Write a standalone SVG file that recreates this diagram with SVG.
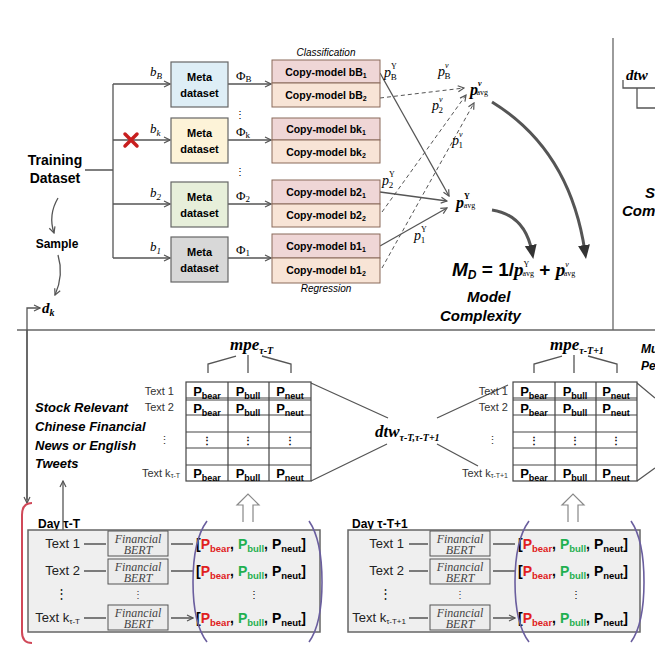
<svg xmlns="http://www.w3.org/2000/svg" width="655" height="655" viewBox="0 0 655 655">
<defs>
<style>
.s{font-family:"Liberation Sans",Arial,sans-serif}
.b{font-family:"Liberation Sans",Arial,sans-serif;font-weight:bold}
.bi{font-family:"Liberation Sans",Arial,sans-serif;font-weight:bold;font-style:italic}
.m{font-family:"Liberation Serif","Times New Roman",serif;font-style:italic}
.mr{font-family:"Liberation Serif","Times New Roman",serif}
.ln{stroke:#555;stroke-width:1.3;fill:none}
.dl{stroke:#555;stroke-width:1;fill:none;stroke-dasharray:4 3}
.meta{stroke:#666;stroke-width:1.2}
.cp1{fill:#efd6d6;stroke:#8a6a5a;stroke-width:1}
.cp2{fill:#f8e4d6;stroke:#8a6a5a;stroke-width:1}
.cell{fill:#fff;stroke:#444;stroke-width:1.2}
.fb{fill:#ececec;stroke:#555;stroke-width:1}
.day{fill:#efefef;stroke:#666;stroke-width:1.5}
.r{fill:#e02020}.g{fill:#1fb050}
</style>
<marker id="a" markerWidth="8" markerHeight="8" refX="7" refY="4" orient="auto" markerUnits="userSpaceOnUse"><path d="M1,1 L7,4 L1,7" fill="none" stroke="#555" stroke-width="1.2"/></marker>
<marker id="big" markerWidth="14" markerHeight="14" refX="7" refY="7" orient="auto" markerUnits="userSpaceOnUse"><path d="M0,1 L14,7 L0,13 Z" fill="#333"/></marker>
</defs>
<rect width="655" height="655" fill="#fff"/>

<g id="frame">
<line x1="17" y1="330" x2="655" y2="330" stroke="#666" stroke-width="1.3"/>
<line x1="613" y1="38" x2="613" y2="330" stroke="#666" stroke-width="1.3"/>
</g>

<g id="connectors">
<path class="ln" d="M85,170 H113 M113,84 V258"/>
<path class="ln" marker-end="url(#a)" d="M113,84 H170"/>
<path class="ln" marker-end="url(#a)" d="M113,140 H170"/>
<path class="ln" marker-end="url(#a)" d="M113,204 H170"/>
<path class="ln" marker-end="url(#a)" d="M113,258 H170"/>
<path class="ln" marker-end="url(#a)" d="M228,84 H271"/>
<path class="ln" marker-end="url(#a)" d="M228,140 H271"/>
<path class="ln" marker-end="url(#a)" d="M228,204 H271"/>
<path class="ln" marker-end="url(#a)" d="M228,258 H271"/>
<path class="ln" marker-end="url(#a)" d="M380,73 L449,196"/>
<path class="ln" marker-end="url(#a)" d="M380,192 L447,201"/>
<path class="ln" marker-end="url(#a)" d="M380,246 L447,208"/>
<path class="dl" marker-end="url(#a)" d="M380,98 L464,88"/>
<path class="dl" marker-end="url(#a)" d="M382,212 L466,95"/>
<path class="dl" marker-end="url(#a)" d="M382,268 L474,103"/>
<path d="M492,102 Q570,150 585,252" fill="none" stroke="#555" stroke-width="3" marker-end="url(#big)"/>
<path d="M492,210 Q525,215 532,252" fill="none" stroke="#555" stroke-width="3" marker-end="url(#big)"/>
<path class="ln" marker-end="url(#a)" d="M58,198 Q48,215 54,233"/>
<path class="ln" marker-end="url(#a)" d="M58,255 Q64,275 55,295"/>
<path class="ln" marker-end="url(#a)" d="M27,500 V308 H40"/>
<path class="ln" marker-end="url(#a)" d="M27,330 V503"/>
<path class="ln" marker-end="url(#a)" d="M63,542 V481"/>
<path class="ln" d="M208,373 V364 L236,356 M248,355 V373 M262,356 L291,364 V373"/>
<path class="ln" d="M534,373 V364 L562,356 M574,355 V373 M588,356 L617,364 V373"/>
<path class="ln" d="M311,383 L388,418 M311,481 L387,444 M437,418 L508,385 M437,444 L478,466 M637,383 L655,398 M637,481 L655,468"/>
<path d="M243,522 V505 H237 L248,494 L259,505 H253 V522" fill="#fff" stroke="#888" stroke-width="1.2"/>
<path d="M568,522 V505 H562 L573,494 L584,505 H578 V522" fill="#fff" stroke="#888" stroke-width="1.2"/>
<path class="ln" d="M623,80 V88 H655 M637,88 V108 H655"/>
</g>

<g id="training"><text class="b" x="55" y="165" font-size="14" text-anchor="middle">Training</text><text class="b" x="55" y="183" font-size="14" text-anchor="middle">Dataset</text></g>
<g id="sample"><text class="b" x="57" y="248" font-size="12" text-anchor="middle">Sample</text></g>
<g id="dk"><text class="m" x="42" y="313" font-size="15" font-weight="bold">d<tspan font-size="10" dy="3">k</tspan></text></g>

<g id="labels-b" class="m" font-size="13">
<text x="150" y="76">b<tspan font-size="9" dy="3">B</tspan></text>
<text x="150" y="133">b<tspan font-size="9" dy="3">k</tspan></text>
<text x="150" y="197">b<tspan font-size="9" dy="3">2</tspan></text>
<text x="150" y="251">b<tspan font-size="9" dy="3">1</tspan></text>
</g>
<g id="redx"><path d="M125,134 L137,146 M137,134 L125,146" stroke="#c81e1e" stroke-width="3.5" stroke-linecap="round"/></g>
<g id="phis" class="mr" font-size="13">
<text x="236" y="80">Φ<tspan font-size="9" dy="2">B</tspan></text>
<text x="236" y="136">Φ<tspan font-size="9" dy="2">k</tspan></text>
<text x="236" y="200">Φ<tspan font-size="9" dy="2">2</tspan></text>
<text x="236" y="254">Φ<tspan font-size="9" dy="2">1</tspan></text>
<text x="235" y="118" font-size="10">⋮</text>
<text x="235" y="175" font-size="10">⋮</text>
</g>

<g id="meta-bB"><rect class="meta" x="171" y="62" width="57" height="45" fill="#deeef6"/><text class="b" x="199.5" y="81" font-size="11" text-anchor="middle">Meta</text><text class="b" x="199.5" y="97" font-size="11" text-anchor="middle">dataset</text></g>
<g id="meta-bk"><rect class="meta" x="171" y="118" width="57" height="45" fill="#fdf3d8"/><text class="b" x="199.5" y="137" font-size="11" text-anchor="middle">Meta</text><text class="b" x="199.5" y="153" font-size="11" text-anchor="middle">dataset</text></g>
<g id="meta-b2"><rect class="meta" x="171" y="182" width="57" height="45" fill="#e7efda"/><text class="b" x="199.5" y="201" font-size="11" text-anchor="middle">Meta</text><text class="b" x="199.5" y="217" font-size="11" text-anchor="middle">dataset</text></g>
<g id="meta-b1"><rect class="meta" x="171" y="237" width="57" height="45" fill="#d8d8d8"/><text class="b" x="199.5" y="256" font-size="11" text-anchor="middle">Meta</text><text class="b" x="199.5" y="272" font-size="11" text-anchor="middle">dataset</text></g>

<g id="copy-models" class="b" font-size="10.5" text-anchor="middle">
<text class="s" x="326" y="56" font-size="10" font-style="italic" font-weight="normal">Classification</text>
<rect class="cp1" x="272" y="60" width="108" height="23"/><rect class="cp2" x="272" y="83" width="108" height="24"/>
<text x="326" y="76">Copy-model bB<tspan font-size="7" dy="2">1</tspan></text><text x="326" y="99">Copy-model bB<tspan font-size="7" dy="2">2</tspan></text>
<rect class="cp1" x="272" y="118" width="108" height="22"/><rect class="cp2" x="272" y="140" width="108" height="23"/>
<text x="326" y="133">Copy-model bk<tspan font-size="7" dy="2">1</tspan></text><text x="326" y="156">Copy-model bk<tspan font-size="7" dy="2">2</tspan></text>
<rect class="cp1" x="272" y="180" width="108" height="24"/><rect class="cp2" x="272" y="204" width="108" height="23"/>
<text x="326" y="196">Copy-model b2<tspan font-size="7" dy="2">1</tspan></text><text x="326" y="219">Copy-model b2<tspan font-size="7" dy="2">2</tspan></text>
<rect class="cp1" x="272" y="234" width="108" height="24"/><rect class="cp2" x="272" y="258" width="108" height="25"/>
<text x="326" y="250">Copy-model b1<tspan font-size="7" dy="2">1</tspan></text><text x="326" y="274">Copy-model b1<tspan font-size="7" dy="2">2</tspan></text>
<text class="s" x="326" y="292" font-size="10" font-style="italic" font-weight="normal">Regression</text>
</g>

<g id="p-labels" class="m" font-size="14">
<text x="384" y="77">p<tspan class="mr" font-size="8" dy="-8" font-style="normal">Y</tspan><tspan class="mr" font-size="9" dx="-6" dy="11" font-style="normal">B</tspan></text>
<text x="438" y="76">p<tspan class="mr" font-size="8" dy="-8">v</tspan><tspan class="mr" font-size="9" dx="-4" dy="11" font-style="normal">B</tspan></text>
<text x="432" y="110">p<tspan class="mr" font-size="8" dy="-8">v</tspan><tspan class="mr" font-size="9" dx="-4" dy="11" font-style="normal">2</tspan></text>
<text x="452" y="145">p<tspan class="mr" font-size="8" dy="-8">v</tspan><tspan class="mr" font-size="9" dx="-4" dy="11" font-style="normal">1</tspan></text>
<text x="382" y="185">p<tspan class="mr" font-size="8" dy="-8" font-style="normal">Y</tspan><tspan class="mr" font-size="9" dx="-6" dy="11" font-style="normal">2</tspan></text>
<text x="414" y="240">p<tspan class="mr" font-size="8" dy="-8" font-style="normal">Y</tspan><tspan class="mr" font-size="9" dx="-6" dy="11" font-style="normal">1</tspan></text>
</g>
<g id="p-avg-v"><text class="m" x="470" y="95" font-size="16" font-weight="bold">p<tspan font-size="8" dy="-9">v</tspan><tspan font-size="8" dx="-5" dy="9" font-style="normal" font-weight="normal">avg</tspan></text></g>
<g id="p-avg-Y"><text class="m" x="456" y="208" font-size="16" font-weight="bold">p<tspan font-size="8" dy="-9" font-style="normal">Y</tspan><tspan font-size="8" dx="-6" dy="9" font-style="normal" font-weight="normal">avg</tspan></text></g>
<g id="formula">
<text x="452" y="276" font-size="19"><tspan class="bi">M</tspan><tspan class="bi" font-size="12" dy="3">D</tspan><tspan class="b" dy="-3"> = 1/</tspan><tspan class="m" font-weight="bold">p</tspan><tspan class="mr" font-size="8" dy="-9">Y</tspan><tspan class="mr" font-size="8" dx="-6" dy="9">avg</tspan><tspan class="b"> + </tspan><tspan class="m" font-weight="bold">p</tspan><tspan class="m" font-size="8" dy="-9">v</tspan><tspan class="mr" font-size="8" dx="-5" dy="9">avg</tspan></text>
<text class="bi" x="467" y="302" font-size="15">Model</text>
<text class="bi" x="440" y="321" font-size="15">Complexity</text>
</g>
<g id="right-partial">
<text class="m" x="626" y="80" font-size="15" font-weight="bold">dtw</text>
<text class="bi" x="645" y="198" font-size="15">S</text>
<text class="bi" x="622" y="216" font-size="15">Com</text>
<text class="bi" x="641" y="353" font-size="12">Mu</text>
<text class="bi" x="641" y="370" font-size="12">Per</text>
</g>

<g id="stock-text" class="bi" font-size="13">
<text x="35" y="412">Stock Relevant</text><text x="35" y="431">Chinese Financial</text><text x="35" y="450">News or English</text><text x="35" y="468">Tweets</text>
</g>
<g id="mpe1"><text class="m" x="230" y="350" font-size="17" font-weight="bold">mpe<tspan font-size="10" dy="4">τ-T</tspan></text></g>
<g id="mpe2"><text class="m" x="550" y="350" font-size="17" font-weight="bold">mpe<tspan font-size="10" dy="4">τ-T+1</tspan></text></g>
<g id="dtw"><text class="m" x="375" y="437" font-size="17" font-weight="bold">dtw<tspan font-size="10" dy="4">τ-T,τ-T+1</tspan></text></g>

<g id="table1">
<rect class="cell" x="186" y="382" width="125" height="99"/>
<path stroke="#444" stroke-width="1.2" d="M228,382 V481 M269,382 V481 M186,398 H311 M186,400 H311 M186,415 H311 M186,432 H311 M186,448 H311 M186,465 H311"/>
<g class="b" font-size="13" text-anchor="middle">
<text x="207" y="396">P<tspan font-size="9" dy="3">bear</tspan></text><text x="248" y="396">P<tspan font-size="9" dy="3">bull</tspan></text><text x="290" y="396">P<tspan font-size="9" dy="3">neut</tspan></text>
<text x="207" y="413">P<tspan font-size="9" dy="3">bear</tspan></text><text x="248" y="413">P<tspan font-size="9" dy="3">bull</tspan></text><text x="290" y="413">P<tspan font-size="9" dy="3">neut</tspan></text>
<text x="207" y="444" font-size="10">⋮</text><text x="248" y="444" font-size="10">⋮</text><text x="290" y="444" font-size="10">⋮</text>
<text x="207" y="478">P<tspan font-size="9" dy="3">bear</tspan></text><text x="248" y="478">P<tspan font-size="9" dy="3">bull</tspan></text><text x="290" y="478">P<tspan font-size="9" dy="3">neut</tspan></text>
</g>
<g class="s" font-size="11" text-anchor="end" fill="#333">
<text x="174" y="395">Text 1</text><text x="174" y="411">Text 2</text><text x="170" y="444">⋮</text><text x="180" y="477">Text k<tspan font-size="7" dy="1">τ-T</tspan></text>
</g>
</g>

<g id="table2">
<rect class="cell" x="513" y="382" width="124" height="99"/>
<path stroke="#444" stroke-width="1.2" d="M555,382 V481 M596,382 V481 M513,398 H637 M513,400 H637 M513,415 H637 M513,432 H637 M513,448 H637 M513,465 H637"/>
<g class="b" font-size="13" text-anchor="middle">
<text x="534" y="396">P<tspan font-size="9" dy="3">bear</tspan></text><text x="575" y="396">P<tspan font-size="9" dy="3">bull</tspan></text><text x="616" y="396">P<tspan font-size="9" dy="3">neut</tspan></text>
<text x="534" y="413">P<tspan font-size="9" dy="3">bear</tspan></text><text x="575" y="413">P<tspan font-size="9" dy="3">bull</tspan></text><text x="616" y="413">P<tspan font-size="9" dy="3">neut</tspan></text>
<text x="534" y="444" font-size="10">⋮</text><text x="575" y="444" font-size="10">⋮</text><text x="616" y="444" font-size="10">⋮</text>
<text x="534" y="478">P<tspan font-size="9" dy="3">bear</tspan></text><text x="575" y="478">P<tspan font-size="9" dy="3">bull</tspan></text><text x="616" y="478">P<tspan font-size="9" dy="3">neut</tspan></text>
</g>
<g class="s" font-size="11" text-anchor="end" fill="#333">
<text x="508" y="395">Text 1</text><text x="508" y="411">Text 2</text><text x="498" y="444">⋮</text><text x="508" y="477">Text k<tspan font-size="7" dy="1">τ-T+1</tspan></text>
</g>
</g>

<g id="day1">
<path d="M32,503 Q22,503 22,515 V632 Q22,643 32,643" fill="none" stroke="#d04858" stroke-width="2"/>
<text class="b" x="38" y="528" font-size="12">Day τ-T</text>
<rect class="day" x="28" y="530" width="292" height="102"/>
<g class="s" font-size="13" fill="#222" text-anchor="end">
<text x="80" y="548">Text 1</text><text x="80" y="575">Text 2</text><text x="68" y="598">⋮</text><text x="80" y="622">Text k<tspan font-size="8" dy="2">τ-T</tspan></text>
</g>
<rect class="fb" x="108" y="531" width="60" height="25"/><rect class="fb" x="108" y="559" width="60" height="25"/><rect class="fb" x="108" y="605" width="60" height="25"/>
<g class="mr" font-style="italic" font-size="12" fill="#444" text-anchor="middle">
<text x="138" y="543">Financial</text><text x="138" y="554">BERT</text>
<text x="138" y="571">Financial</text><text x="138" y="582">BERT</text>
<text x="138" y="617">Financial</text><text x="138" y="628">BERT</text>
<text x="138" y="598" font-style="normal" font-size="10">⋮</text>
</g>
<path class="ln" marker-end="url(#a)" d="M84,544 H106 M84,571 H106 M84,618 H106 M171,544 H193 M171,571 H193 M171,618 H193"/>
<g class="b" font-size="14">
<text x="196" y="549">[<tspan class="r">P</tspan><tspan class="r" font-size="9.5" dy="3">bear</tspan><tspan dy="-3">, </tspan><tspan class="g">P</tspan><tspan class="g" font-size="9.5" dy="3">bull</tspan><tspan dy="-3">, P</tspan><tspan font-size="9.5" dy="3">neut</tspan><tspan dy="-3">]</tspan></text>
<text x="196" y="576">[<tspan class="r">P</tspan><tspan class="r" font-size="9.5" dy="3">bear</tspan><tspan dy="-3">, </tspan><tspan class="g">P</tspan><tspan class="g" font-size="9.5" dy="3">bull</tspan><tspan dy="-3">, P</tspan><tspan font-size="9.5" dy="3">neut</tspan><tspan dy="-3">]</tspan></text>
<text x="249" y="598" font-size="10" font-weight="normal">⋮</text>
<text x="196" y="623">[<tspan class="r">P</tspan><tspan class="r" font-size="9.5" dy="3">bear</tspan><tspan dy="-3">, </tspan><tspan class="g">P</tspan><tspan class="g" font-size="9.5" dy="3">bull</tspan><tspan dy="-3">, P</tspan><tspan font-size="9.5" dy="3">neut</tspan><tspan dy="-3">]</tspan></text>
</g>
<path d="M207,521 Q193,540 193,582 Q193,624 207,642 M309,521 Q322,540 322,582 Q322,624 309,642" fill="none" stroke="#6a5e9e" stroke-width="1.6"/>
</g>

<g id="day2">
<text class="b" x="352" y="528" font-size="12">Day τ-T+1</text>
<rect class="day" x="348" y="530" width="292" height="102"/>
<g class="s" font-size="13" fill="#222" text-anchor="end">
<text x="404" y="548">Text 1</text><text x="404" y="575">Text 2</text><text x="392" y="598">⋮</text><text x="406" y="622">Text k<tspan font-size="8" dy="2">τ-T+1</tspan></text>
</g>
<rect class="fb" x="430" y="531" width="60" height="25"/><rect class="fb" x="430" y="559" width="60" height="25"/><rect class="fb" x="430" y="605" width="60" height="25"/>
<g class="mr" font-style="italic" font-size="12" fill="#444" text-anchor="middle">
<text x="460" y="543">Financial</text><text x="460" y="554">BERT</text>
<text x="460" y="571">Financial</text><text x="460" y="582">BERT</text>
<text x="460" y="617">Financial</text><text x="460" y="628">BERT</text>
<text x="460" y="598" font-style="normal" font-size="10">⋮</text>
</g>
<path class="ln" marker-end="url(#a)" d="M409,544 H428 M409,571 H428 M409,618 H428 M493,544 H515 M493,571 H515 M493,618 H515"/>
<g class="b" font-size="14">
<text x="518" y="549">[<tspan class="r">P</tspan><tspan class="r" font-size="9.5" dy="3">bear</tspan><tspan dy="-3">, </tspan><tspan class="g">P</tspan><tspan class="g" font-size="9.5" dy="3">bull</tspan><tspan dy="-3">, P</tspan><tspan font-size="9.5" dy="3">neut</tspan><tspan dy="-3">]</tspan></text>
<text x="518" y="576">[<tspan class="r">P</tspan><tspan class="r" font-size="9.5" dy="3">bear</tspan><tspan dy="-3">, </tspan><tspan class="g">P</tspan><tspan class="g" font-size="9.5" dy="3">bull</tspan><tspan dy="-3">, P</tspan><tspan font-size="9.5" dy="3">neut</tspan><tspan dy="-3">]</tspan></text>
<text x="571" y="598" font-size="10" font-weight="normal">⋮</text>
<text x="518" y="623">[<tspan class="r">P</tspan><tspan class="r" font-size="9.5" dy="3">bear</tspan><tspan dy="-3">, </tspan><tspan class="g">P</tspan><tspan class="g" font-size="9.5" dy="3">bull</tspan><tspan dy="-3">, P</tspan><tspan font-size="9.5" dy="3">neut</tspan><tspan dy="-3">]</tspan></text>
</g>
<path d="M529,521 Q515,540 515,582 Q515,624 529,642 M631,521 Q644,540 644,582 Q644,624 631,642" fill="none" stroke="#6a5e9e" stroke-width="1.6"/>
</g>
</svg>
